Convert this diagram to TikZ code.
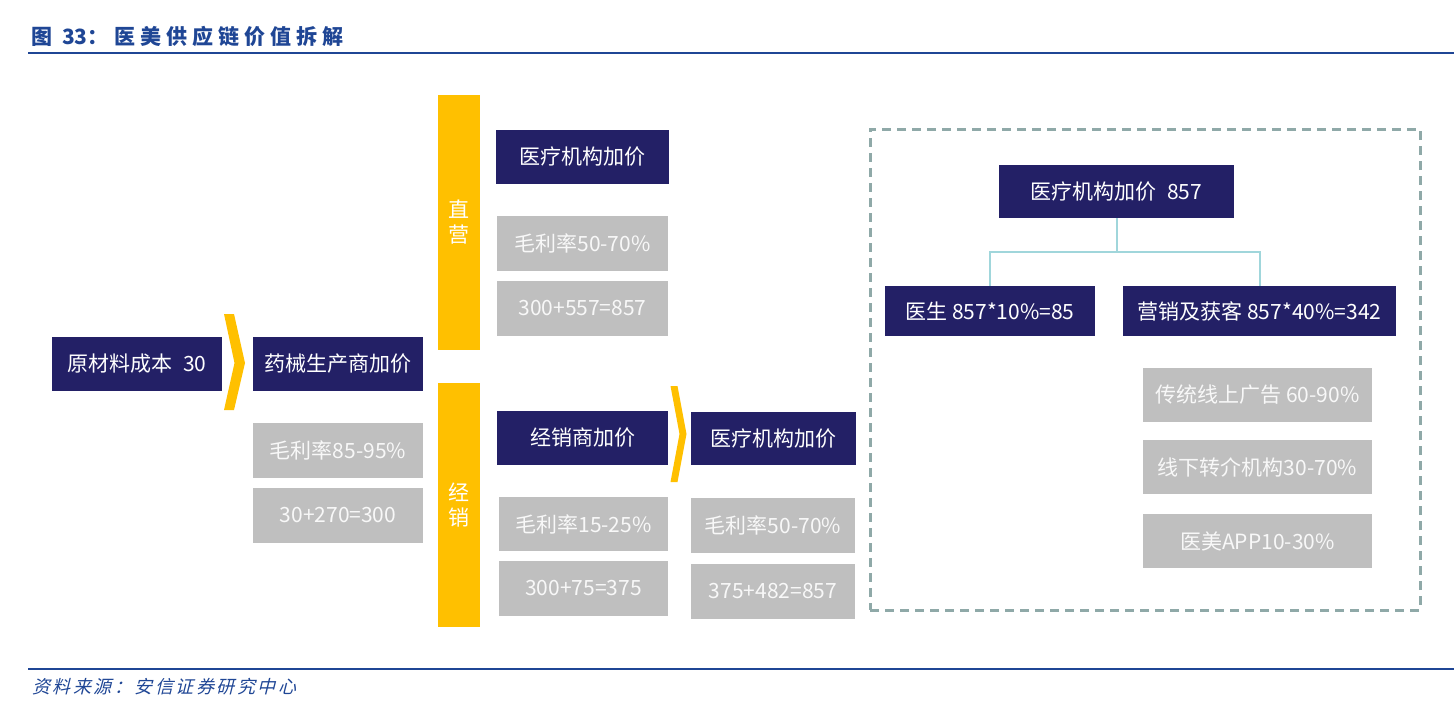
\documentclass[tikz,border=0pt]{standalone}
\usepackage{fontspec}
\setmainfont{Noto Sans CJK SC}
\newfontfamily\slantcjk{Noto Sans CJK SC}[FakeSlant=0.25]
\definecolor{navyc}{RGB}{35,32,102}
\definecolor{yellowc}{RGB}{255,192,0}
\definecolor{grayc}{RGB}{191,191,191}
\definecolor{graytext}{RGB}{248,248,248}
\definecolor{dashc}{RGB}{143,169,168}
\definecolor{connc}{RGB}{160,214,219}
\definecolor{titlec}{RGB}{31,70,149}
\begin{document}
\begin{tikzpicture}[x=1pt,y=-1pt,
  boxfont/.style={font=\fontsize{21}{25}\selectfont},
  navybox/.style={boxfont, fill=navyc, text=white, inner sep=0pt},
  graybox/.style={boxfont, fill=grayc, text=graytext, inner sep=0pt},
  ybar/.style={boxfont, fill=yellowc, text=white, inner sep=0pt, align=center},
  chev/.style={fill=yellowc},
  conn/.style={draw=connc, line width=2pt},
  grpbox/.style={draw=dashc, line width=3pt, dash pattern=on 9pt off 6pt, inner sep=0pt},
  rule/.style={draw=titlec, line width=2.5pt},
]
\useasboundingbox (0,0) rectangle (1454,704);
% title
\node[anchor=west, inner sep=0pt, text=titlec, font=\fontsize{21}{25}\selectfont\bfseries] (title) at (31,36)
  {图\kern10pt 33：\kern6pt 医\kern5pt 美\kern5pt 供\kern5pt 应\kern5pt 链\kern5pt 价\kern5pt 值\kern5pt 拆\kern5pt 解};
\coordinate (tl1) at (28,53);
\coordinate (tl2) at (1454,53);
\draw[rule] (tl1) -- (tl2);
% footer
\coordinate (fl1) at (28,669);
\coordinate (fl2) at (1454,669);
\draw[rule] (fl1) -- (fl2);
\node[anchor=west, inner sep=0pt, text=titlec, font=\fontsize{18}{21}\slantcjk] (src) at (32,687)
  {资\kern2.5pt 料\kern2.5pt 来\kern2.5pt 源\kern2.5pt ：\kern2.5pt 安\kern2.5pt 信\kern2.5pt 证\kern2.5pt 券\kern2.5pt 研\kern2.5pt 究\kern2.5pt 中\kern2.5pt 心};

% left column
\node[navybox, minimum width=170pt, minimum height=54pt] (raw) at (137,364) {原材料成本\enspace 30};
\fill[chev] (224,314) -- (234,314) -- (245,363) -- (234,410) -- (224,410) -- (234.5,363) -- cycle;
\node[navybox, minimum width=170pt, minimum height=54pt] (mfr) at (338,364) {药械生产商加价};
\node[graybox, minimum width=170pt, minimum height=55pt] (g1) at (338,450.5) {毛利率85-95\%};
\node[graybox, minimum width=170pt, minimum height=55pt] (g2) at (338,515.5) {30+270=300};

% yellow bars
\node[ybar, minimum width=42pt, minimum height=255pt] (bar1) at (459,222.5) {直\\营};
\node[ybar, minimum width=42pt, minimum height=244pt] (bar2) at (459,505) {经\\销};

% direct channel
\node[navybox, minimum width=173pt, minimum height=54pt] (d1) at (582.5,157) {医疗机构加价};
\node[graybox, minimum width=171pt, minimum height=55pt] (d2) at (582.5,243.5) {毛利率50-70\%};
\node[graybox, minimum width=171pt, minimum height=55pt] (d3) at (582.5,308.5) {300+557=857};

% distribution channel
\node[navybox, minimum width=171pt, minimum height=54pt] (dist) at (582.5,438) {经销商加价};
\fill[chev] (670.5,386) -- (677.5,386) -- (686.5,434) -- (677.5,482) -- (670.5,482) -- (679.5,434) -- cycle;
\node[navybox, minimum width=165pt, minimum height=53pt] (inst2) at (773.5,438.5) {医疗机构加价};
\node[graybox, minimum width=169pt, minimum height=54pt] (e1) at (583.5,524) {毛利率15-25\%};
\node[graybox, minimum width=169pt, minimum height=55pt] (e2) at (583.5,588.5) {300+75=375};
\node[graybox, minimum width=164pt, minimum height=55pt] (f1) at (773,525.5) {毛利率50-70\%};
\node[graybox, minimum width=164pt, minimum height=55pt] (f2) at (773,591.5) {375+482=857};

% right group
\node[grpbox, minimum width=550pt, minimum height=481pt] (grp) at (1145,369.5) {};
\node[navybox, minimum width=235pt, minimum height=53pt] (inst) at (1116.5,191.5) {医疗机构加价\enspace 857};
\node[navybox, minimum width=210pt, minimum height=50pt] (doc) at (990,311) {医生 857*10\%=85};
\node[navybox, minimum width=273pt, minimum height=50pt] (mkt) at (1259.5,311) {营销及获客 857*40\%=342};
\draw[conn] (inst.south) -- ++(0,34) coordinate (j) -| (doc.north);
\draw[conn] (j) -| (mkt.north);
\node[graybox, minimum width=229pt, minimum height=54pt] (m1) at (1257.5,395) {传统线上广告 60-90\%};
\node[graybox, minimum width=229pt, minimum height=54pt] (m2) at (1257.5,467) {线下转介机构30-70\%};
\node[graybox, minimum width=229pt, minimum height=54pt] (m3) at (1257.5,541) {医美APP10-30\%};
\end{tikzpicture}
\end{document}
